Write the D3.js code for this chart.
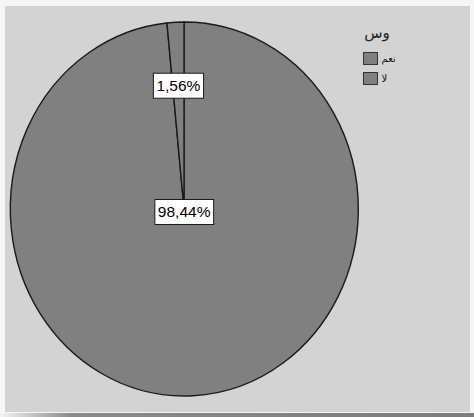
<!DOCTYPE html>
<html>
<head>
<meta charset="utf-8">
<script src="https://cdn.jsdelivr.net/npm/d3@7"></script>
<style>
  html, body { margin: 0; padding: 0; background: #f6f6f6; }
  svg { display: block; }
</style>
</head>
<body>
<script>
// Pie data: answer categories and their percentages
const categories = ["نعم", "لا"];
const values = [98.44, 1.56];
const valueLabels = ["98,44%", "1,56%"];
const legendTitle = "وس";

const W = 474, H = 417;
const svg = d3.select("body").append("svg").attr("width", W).attr("height", H);

// page background + bottom shadow strip
const defs = svg.append("defs");
const grad = defs.append("linearGradient").attr("id", "shadow").attr("x1", 0).attr("x2", 1);
grad.append("stop").attr("offset", "0").attr("stop-color", "#f4f4f4");
grad.append("stop").attr("offset", "0.15").attr("stop-color", "#8a8a8a");
grad.append("stop").attr("offset", "1").attr("stop-color", "#7c7c7c");
svg.append("rect").attr("x", 0).attr("y", 413).attr("width", W).attr("height", 4).attr("fill", "url(#shadow)");

// chart panel
svg.append("rect").attr("x", 5).attr("y", 6).attr("width", 465).attr("height", 406)
  .attr("fill", "#d3d3d3");

// elliptical pie: unit-radius arcs stretched to the ellipse
const cx = 184, cy = 209, rx = 174, ry = 187;
const color = d3.scaleOrdinal().domain(categories).range(["#808080", "#808080"]);

const pie = d3.pie().sort(null).value(d => d.value);
const data = categories.map((c, i) => ({ cat: c, value: values[i], label: valueLabels[i] }));
const arcs = pie(data);
const arc = d3.arc().innerRadius(0).outerRadius(1);

const g = svg.append("g").attr("transform", `translate(${cx},${cy}) scale(${rx},${ry})`);
g.selectAll("path").data(arcs).join("path")
  .attr("d", arc)
  .attr("fill", d => color(d.data.cat))
  .attr("stroke", "#1a1a1a")
  .attr("stroke-width", 1.4)
  .attr("vector-effect", "non-scaling-stroke");

// value labels: small slice placed along its mid-angle, large slice near the centre
const labelRadius = d => (d.endAngle - d.startAngle) > Math.PI ? 0.016 : 0.66;
const lg = svg.append("g").attr("font-family", "Arial, 'Liberation Sans', sans-serif")
  .attr("font-size", 15.5);
arcs.forEach(d => {
  const a = (d.startAngle + d.endAngle) / 2;
  const r = labelRadius(d);
  const x = cx + rx * r * Math.sin(a);
  const y = cy - ry * r * Math.cos(a);
  const t = lg.append("text").attr("x", x).attr("y", y).attr("text-anchor", "middle")
    .attr("dominant-baseline", "central").attr("fill", "#000").text(d.data.label);
  const bb = t.node().getBBox();
  lg.insert("rect", "text")
    .attr("x", bb.x - 3).attr("y", y - 12.5)
    .attr("width", bb.width + 6).attr("height", 25)
    .attr("fill", "#fff").attr("stroke", "#1a1a1a").attr("stroke-width", 1);
});

// legend
const leg = svg.append("g").attr("font-family", "Arial, 'DejaVu Sans', sans-serif");
leg.append("text").attr("x", 377).attr("y", 38).attr("text-anchor", "middle")
  .attr("font-size", 15).attr("fill", "#222").text(legendTitle);
const items = leg.selectAll("g.item").data(categories).join("g").attr("class", "item")
  .attr("transform", (d, i) => `translate(363.5,${52.5 + i * 20})`);
items.append("rect").attr("width", 14).attr("height", 12)
  .attr("fill", d => color(d)).attr("stroke", "#333").attr("stroke-width", 1);
items.append("text").attr("x", 18).attr("y", 9).attr("font-size", 10)
  .attr("fill", "#111").text(d => d);
</script>
</body>
</html>
